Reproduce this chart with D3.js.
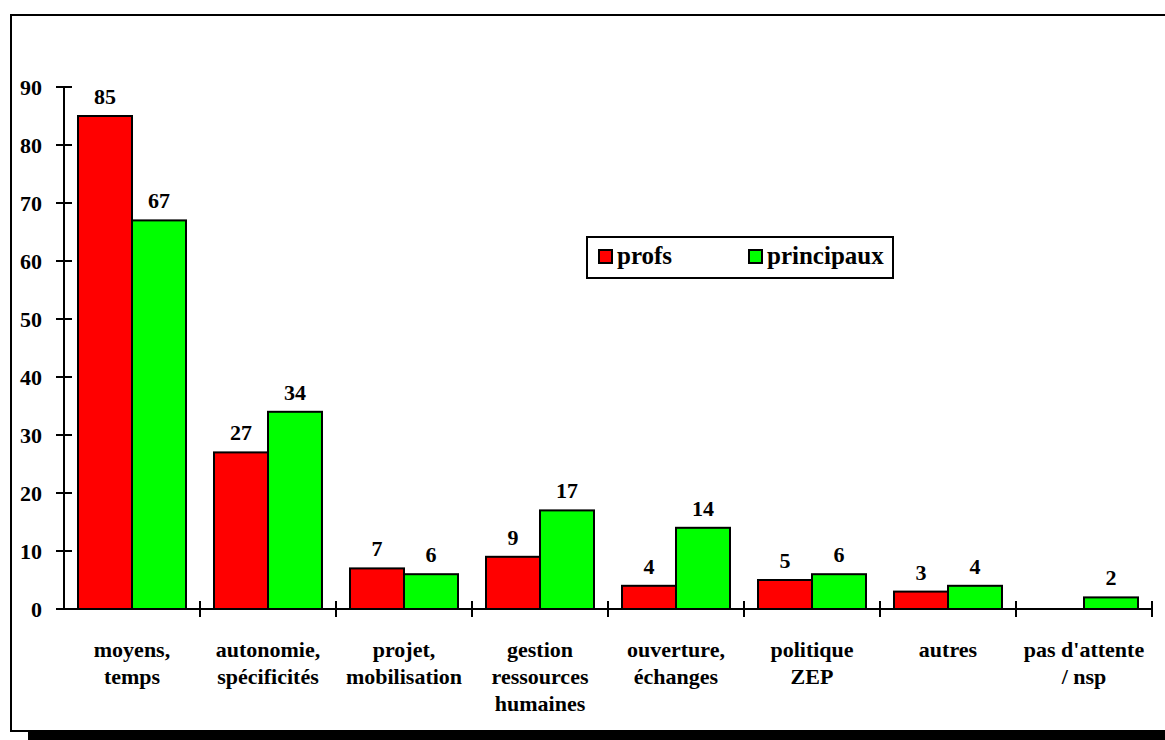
<!DOCTYPE html>
<html>
<head>
<meta charset="utf-8">
<script src="https://cdn.jsdelivr.net/npm/d3@7"></script>
<style>
  body { margin: 0; background: #fff; }
  svg { display: block; font-family: "Liberation Serif", "Times New Roman", serif; font-weight: bold; }
</style>
</head>
<body>
<svg width="1165" height="740"></svg>
<script>
const categories = [
  ["moyens,", "temps"],
  ["autonomie,", "spécificités"],
  ["projet,", "mobilisation"],
  ["gestion", "ressources", "humaines"],
  ["ouverture,", "échanges"],
  ["politique", "ZEP"],
  ["autres"],
  ["pas d'attente", "/ nsp"]
];
const profs = [85, 27, 7, 9, 4, 5, 3, null];
const principaux = [67, 34, 6, 17, 14, 6, 4, 2];
const seriesNames = ["profs", "principaux"];
const seriesColors = ["#ff0000", "#00ff00"];
const yTicks = [0, 10, 20, 30, 40, 50, 60, 70, 80, 90];

const svg = d3.select("svg");

// frame + shadow
svg.append("rect").attr("x", 28).attr("y", 732).attr("width", 1140).attr("height", 8).attr("fill", "#000");
svg.append("rect")
  .attr("x", 11).attr("y", 15).attr("width", 1170).attr("height", 716)
  .attr("fill", "none").attr("stroke", "#000").attr("stroke-width", 2);

const x0 = 64, x1 = 1152, yBase = 609, yTop = 87;
const keys = categories.map((d, i) => i);
const x = d3.scaleBand().domain(keys).range([x0, x1]).paddingInner(0).paddingOuter(0);
const xs = d3.scaleBand().domain([0, 1]).range([14, x.bandwidth() - 14]);
const y = d3.scaleLinear().domain([0, 90]).range([yBase, yTop]);

// y axis
const gy = svg.append("g");
gy.append("line").attr("x1", x0).attr("x2", x0).attr("y1", y(90)).attr("y2", y(0))
  .attr("stroke", "#000").attr("stroke-width", 2);
gy.selectAll("line.t").data(yTicks).join("line").attr("class", "t")
  .attr("x1", x0 - 8).attr("x2", x0 + 8)
  .attr("y1", d => y(d)).attr("y2", d => y(d))
  .attr("stroke", "#000").attr("stroke-width", 2);
gy.selectAll("text").data(yTicks).join("text")
  .attr("x", 42).attr("y", d => y(d)).attr("dy", "0.35em")
  .attr("text-anchor", "end").attr("font-size", 22)
  .text(d => d);

// bars
const series = [profs, principaux];
const bars = svg.append("g");
keys.forEach(i => {
  series.forEach((s, j) => {
    const v = s[i];
    if (v == null) return;
    const bx = x(i) + xs(j);
    bars.append("rect")
      .attr("x", bx).attr("y", y(v))
      .attr("width", xs.bandwidth()).attr("height", y(0) - y(v))
      .attr("fill", seriesColors[j]).attr("stroke", "#000").attr("stroke-width", 2);
    bars.append("text")
      .attr("x", bx + xs.bandwidth() / 2).attr("y", y(v) - 12)
      .attr("text-anchor", "middle").attr("font-size", 22)
      .text(v);
  });
});

// x axis
const gx = svg.append("g");
gx.append("line").attr("x1", x0).attr("x2", x1).attr("y1", yBase).attr("y2", yBase)
  .attr("stroke", "#000").attr("stroke-width", 2);
gx.selectAll("line.t").data(keys.slice(1).concat([keys.length])).join("line").attr("class", "t")
  .attr("x1", d => x0 + d * x.bandwidth()).attr("x2", d => x0 + d * x.bandwidth())
  .attr("y1", yBase - 8).attr("y2", yBase + 8)
  .attr("stroke", "#000").attr("stroke-width", 2);
gx.selectAll("text").data(categories).join("text")
  .attr("text-anchor", "middle").attr("font-size", 22)
  .each(function(d, i) {
    d3.select(this).selectAll("tspan").data(d).join("tspan")
      .attr("x", x(i) + x.bandwidth() / 2)
      .attr("y", (t, k) => 657 + k * 27)
      .text(t => t);
  });

// legend
const lg = svg.append("g");
lg.append("rect").attr("x", 587).attr("y", 237).attr("width", 306).attr("height", 41)
  .attr("fill", "#fff").attr("stroke", "#000").attr("stroke-width", 2);
const lx = [599, 749];
seriesNames.forEach((n, j) => {
  lg.append("rect").attr("x", lx[j]).attr("y", 250).attr("width", 13).attr("height", 13)
    .attr("fill", seriesColors[j]).attr("stroke", "#000").attr("stroke-width", 2);
  lg.append("text").attr("x", lx[j] + 18).attr("y", 264).attr("font-size", 25).text(n);
});
</script>
</body>
</html>
